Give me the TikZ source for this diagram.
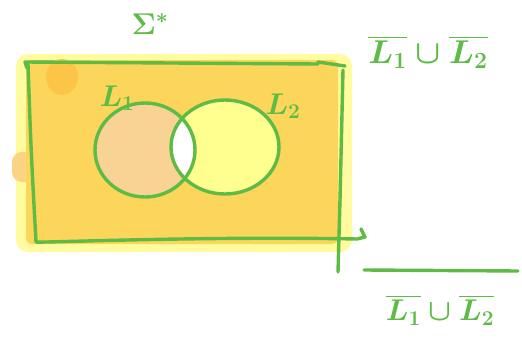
\documentclass[tikz,border=0pt]{standalone}
\usepackage{fix-cm}
\usepackage{amsmath}
\definecolor{pen}{HTML}{5DBB46}
\definecolor{gold}{HTML}{FCD65A}
\definecolor{halo}{HTML}{FFFB9E}
\definecolor{peach}{HTML}{F9D394}
\definecolor{lemon}{HTML}{FFFF90}
\tikzset{
  stroke/.style={draw=pen, line width=3.4pt, line cap=round, line join=round},
  lbl/.style={text=pen, font=\fontsize{30}{34}\selectfont\boldmath, inner sep=0pt},
}
\begin{document}
\begin{tikzpicture}[x=1pt,y=-1pt]
\useasboundingbox (0,0) rectangle (522,340);
% halo and fill
\fill[halo, rounded corners=12pt] (16,54) rectangle (352,252);
\fill[peach!70!gold, rounded corners=10pt] (12,152) rectangle (36,182);
\fill[gold, rounded corners=6pt] (26,60) rectangle (338,244);
\fill[gold!80!orange] (62,77) ellipse (16 and 18);
% set regions
\path[fill=peach] (145,150) ellipse (50 and 47);
\path[fill=lemon] (225,147) ellipse (54 and 47);
\begin{scope}
  \clip (145,150) ellipse (50 and 47);
  \fill[white] (225,147) ellipse (54 and 47);
\end{scope}
\draw[stroke] (145,150) ellipse (50 and 47);
\draw[stroke] (225,147) ellipse (54 and 47);
% universe box
\coordinate (tl) at (25,62);
\coordinate (tr) at (345,66);
\coordinate (bl) at (36,242);
\coordinate (br) at (365,240);
\draw[stroke] (27,68) -- (tl) -- (318,64) (318,62) -- (tr);
\draw[stroke] (28,64) .. controls (31,150) .. (bl) .. controls (40,243) and (200,236) .. (357,239) -- (365,237) -- (361,229);
\draw[stroke] (343,70) -- (340,200) -- (338,272);
% labels
\node[lbl] (sig) at (150,24) {$\Sigma^{*}$};
\node[lbl] (l1) at (117,98) {$L_1$};
\node[lbl] (l2) at (283,106) {$L_2$};
\node[lbl, scale=1.1] (top) at (428,52) {$\overline{L_1}\cup\overline{L_2}$};
\coordinate (ra) at (364,270);
\coordinate (rb) at (518,271);
\draw[stroke] (ra) -- (rb);
\node[lbl] (bot) at (440,310) {$\overline{L_1}\cup\overline{L_2}$};
\end{tikzpicture}
\end{document}
